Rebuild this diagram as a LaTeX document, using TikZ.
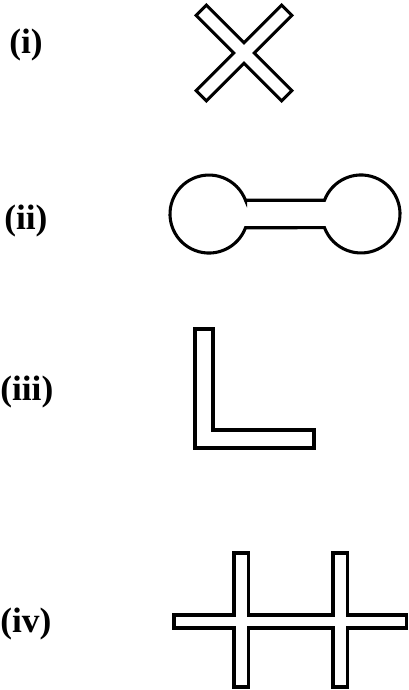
\documentclass[tikz,border=0pt]{standalone}
\usepackage{fontspec}
\setmainfont{Liberation Serif}
\begin{document}
\begin{tikzpicture}[x=0.75pt, y=-0.75pt,
	tag/.style={anchor=west, inner sep=0pt, font=\fontsize{26.5}{30}\selectfont\bfseries},
	outline/.style={line width=2.3pt, line join=miter}]
	\useasboundingbox (0,0) rectangle (409,690);
	\node[tag] (i) at (9,45) {(i)};
	\node[tag] (ii) at (4,221) {(ii)};
	\node[tag] (iii) at (0,392) {(iii)};
	\node[tag] (iv) at (0,624) {(iv)};
	% (i) crossed bars
	\draw[outline, shift={(244,53)}, rotate=45] (7.25,7.25) -- (60.5,7.25) -- (60.5,-7.25) -- (7.25,-7.25)
		-- (7.25,-60.5) -- (-7.25,-60.5) -- (-7.25,-7.25) -- (-60.5,-7.25) -- (-60.5,7.25)
		-- (-7.25,7.25) -- (-7.25,60.5) -- (7.25,60.5) -- cycle;
	% (ii) two discs and a bar
	\draw[outline] (245.5,200.25) -- (324.5,200.25) arc[start angle=-159.4, end angle=159.4, radius=39]
		-- (245.5,227.75) arc[start angle=20.6, end angle=339.4, radius=39] -- cycle;
	% (iii) angle
	\draw[outline] (195,329) -- (195,448) -- (314,448) -- (314,430) -- (213,430) -- (213,329) -- cycle;
	% (iv) bar with two crossings
	\draw[outline] (174,615) -- (234,615) -- (234,553) -- (248.5,553) -- (248.5,615) -- (333,615)
		-- (333,553) -- (347.5,553) -- (347.5,615) -- (406.5,615) -- (406.5,628) -- (347.5,628)
		-- (347.5,687) -- (333,687) -- (333,628) -- (248.5,628) -- (248.5,687) -- (234,687)
		-- (234,628) -- (174,628) -- cycle;
\end{tikzpicture}
\end{document}
